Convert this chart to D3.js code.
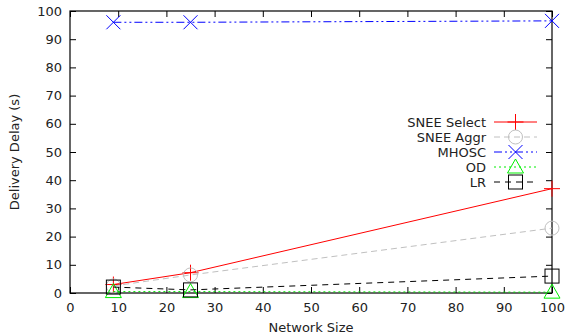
<!DOCTYPE html>
<html>
<head>
<meta charset="utf-8">
<script src="https://cdnjs.cloudflare.com/ajax/libs/d3/7.8.5/d3.min.js"></script>
<style>
  body { margin: 0; background: #fff; }
  svg text { font-family: "DejaVu Sans", sans-serif; font-size: 13px; fill: #222; }
</style>
</head>
<body>
<svg id="chart" width="568" height="335"></svg>
<script>
// network sizes (x values)
var networkSizes = [9, 25, 100];

// delivery delay per algorithm
var sneeSelect = [3, 7.2, 37];
var sneeAggr = [2.5, 6.4, 23];
var mhosc = [96, 96, 96.5];
var od = [0.5, 0.5, 0.3];
var lr = [2.1, 1.1, 6];

var xTicks = [0, 10, 20, 30, 40, 50, 60, 70, 80, 90, 100];
var yTicks = [0, 10, 20, 30, 40, 50, 60, 70, 80, 90, 100];

var seriesList = [
    {name: "SNEE Select", values: sneeSelect, color: "#ff0000", dash: null, marker: "plus"},
    {name: "SNEE Aggr", values: sneeAggr, color: "#c0c0c0", dash: "6,4", marker: "circle"},
    {name: "MHOSC", values: mhosc, color: "#0000ff", dash: "8,3,2,3,2,3", marker: "cross"},
    {name: "OD", values: od, color: "#00ee00", dash: "2,3", marker: "triangle"},
    {name: "LR", values: lr, color: "#000000", dash: "6,5", marker: "square"}
];

var svg = d3.select("#chart");
var plotLeft = 70, plotRight = 552, plotTop = 11, plotBottom = 293;

var x = d3.scaleLinear().domain([0, 100]).range([plotLeft, plotRight]);
var y = d3.scaleLinear().domain([0, 100]).range([plotBottom, plotTop]);

// ticks (inward, mirrored like gnuplot)
var tickLen = 6;
var axes = svg.append("g");
axes.append("g")
    .attr("transform", "translate(0," + plotBottom + ")")
    .call(d3.axisBottom(x).tickValues(xTicks).tickSizeInner(-tickLen).tickSizeOuter(0).tickPadding(10))
    .call(function(g) { g.select(".domain").remove(); });
axes.append("g")
    .attr("transform", "translate(0," + plotTop + ")")
    .call(d3.axisTop(x).tickValues(xTicks).tickSizeInner(-tickLen).tickSizeOuter(0).tickFormat(""))
    .call(function(g) { g.select(".domain").remove(); });
axes.append("g")
    .attr("transform", "translate(" + plotLeft + ",0)")
    .call(d3.axisLeft(y).tickValues(yTicks).tickSizeInner(-tickLen).tickSizeOuter(0).tickPadding(8))
    .call(function(g) { g.select(".domain").remove(); });
axes.append("g")
    .attr("transform", "translate(" + plotRight + ",0)")
    .call(d3.axisRight(y).tickValues(yTicks).tickSizeInner(-tickLen).tickSizeOuter(0).tickFormat(""))
    .call(function(g) { g.select(".domain").remove(); });
axes.selectAll(".tick line").attr("stroke", "#000");
axes.selectAll(".tick text").attr("font-size", 13).attr("font-family", "DejaVu Sans, sans-serif").attr("fill", "#222");

// border box
svg.append("rect")
    .attr("x", plotLeft).attr("y", plotTop)
    .attr("width", plotRight - plotLeft).attr("height", plotBottom - plotTop)
    .attr("fill", "none").attr("stroke", "#000").attr("stroke-width", 1.2);

// axis titles
svg.append("text")
    .attr("x", (plotLeft + plotRight) / 2).attr("y", 332)
    .attr("text-anchor", "middle")
    .text("Network Size");
svg.append("text")
    .attr("transform", "translate(19," + ((plotTop + plotBottom) / 2) + ") rotate(-90)")
    .attr("text-anchor", "middle")
    .text("Delivery Delay (s)");

function drawMarker(g, type, cx, cy, color) {
    var s = 8;
    if (type == "plus") {
        g.append("path").attr("d", "M" + (cx - s) + "," + cy + "H" + (cx + s) + "M" + cx + "," + (cy - s) + "V" + (cy + s))
            .attr("stroke", color).attr("fill", "none");
    } else if (type == "cross") {
        g.append("path").attr("d", "M" + (cx - 7) + "," + (cy - 7) + "L" + (cx + 7) + "," + (cy + 7) + "M" + (cx - 7) + "," + (cy + 7) + "L" + (cx + 7) + "," + (cy - 7))
            .attr("stroke", color).attr("fill", "none");
    } else if (type == "circle") {
        g.append("circle").attr("cx", cx).attr("cy", cy).attr("r", 7)
            .attr("stroke", color).attr("fill", "none");
    } else if (type == "triangle") {
        g.append("path").attr("d", "M" + cx + "," + (cy - 8) + "L" + (cx + 8) + "," + (cy + 6) + "L" + (cx - 8) + "," + (cy + 6) + "Z")
            .attr("stroke", color).attr("fill", "none");
    } else if (type == "square") {
        g.append("rect").attr("x", cx - 7).attr("y", cy - 7).attr("width", 14).attr("height", 14)
            .attr("stroke", color).attr("fill", "none");
    }
}

var line = d3.line()
    .x(function(d) { return x(d[0]); })
    .y(function(d) { return y(d[1]); });

var plot = svg.append("g");
seriesList.forEach(function(s) {
    var pts = networkSizes.map(function(n, i) { return [n, s.values[i]]; });
    plot.append("path")
        .datum(pts)
        .attr("d", line)
        .attr("fill", "none")
        .attr("stroke", s.color)
        .attr("stroke-width", 1)
        .attr("stroke-dasharray", s.dash);
    pts.forEach(function(p) {
        drawMarker(plot, s.marker, x(p[0]), y(p[1]), s.color);
    });
});

// legend
var legend = svg.append("g");
seriesList.forEach(function(s, i) {
    var ly = 122 + i * 15;
    legend.append("text")
        .attr("x", 486).attr("y", ly)
        .attr("dy", "0.35em")
        .attr("text-anchor", "end")
        .text(s.name);
    legend.append("line")
        .attr("x1", 494).attr("x2", 537)
        .attr("y1", ly).attr("y2", ly)
        .attr("stroke", s.color)
        .attr("stroke-dasharray", s.dash);
    drawMarker(legend, s.marker, 515.5, ly, s.color);
});
</script>
</body>
</html>
